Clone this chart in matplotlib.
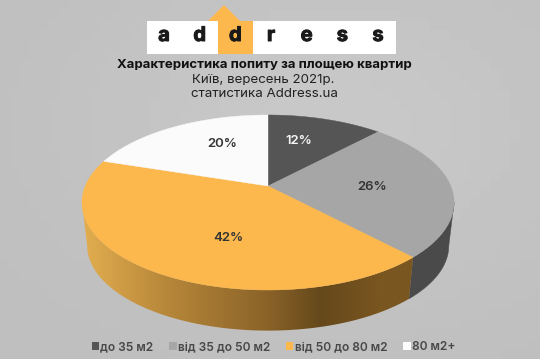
import numpy as np
import matplotlib
matplotlib.use("Agg")
import matplotlib.pyplot as plt
import matplotlib.patheffects as pe
from matplotlib.patches import Polygon, Rectangle, Patch
from matplotlib.colors import LinearSegmentedColormap

categories = ["до 35 м2", "від 35 до 50 м2", "від 50 до 80 м2", "80 м2+"]
shares = [12, 26, 42, 20]
logo_letters = list("address")
title_lines = ["Характеристика попиту за площею квартир", "Київ, вересень 2021р.", "статистика Address.ua"]

colors = ["#555555", "#a6a6a6", "#fcb84d", "#fbfbfb"]
label_colors = ["#f4f4f4", "#333333", "#333333", "#333333"]
label_xy = [(299, 141), (372, 187), (228, 238), (222, 144)]

W, H = 540, 359
fig = plt.figure(figsize=(W / 100, H / 100), dpi=100)
ax = fig.add_axes([0, 0, 1, 1])
ax.axis("off")

# background
gx, gy = np.meshgrid(np.linspace(0, 1, 54), np.linspace(0, 1, 36))
bg = 190 + 10 * np.exp(-((gx - .62) ** 2 + (gy - .35) ** 2) / .25)
ax.imshow(bg, cmap="gray", vmin=0, vmax=255, extent=(0, W, H, 0), aspect="auto", zorder=0)

# perspective projection of a unit circle
CX, CY = 268, 186
A, B, K = 182.7, 84.4, 0.1886
DEPTH, SHRINK = 43.5, 0.972


def project(theta, r=1.0, bottom=False):
    x = r * np.sin(theta)
    y = r * np.cos(theta)
    d = 1 + K * y
    px, py = A * x / d, -B * y / d
    if bottom:
        return CX + SHRINK * px, CY + DEPTH + SHRINK * py
    return CX + px, CY + py


fracs = np.cumsum([0] + shares) / np.sum(shares) * 2 * np.pi

side_cmap = LinearSegmentedColormap.from_list(
    "side", [(0, "#e3ae50"), (.25, "#b8883a"), (.55, "#8c6429"), (.72, "#65481b"), (.9, "#7a5620"), (1, "#7a5620")])


def side_poly(t0, t1):
    t = np.linspace(t0, t1, 200)
    xt, yt = project(t)
    xb, yb = project(t[::-1], bottom=True)
    return np.column_stack([np.r_[xt, xb], np.r_[yt, yb]])


right_t = np.pi / 2 + 0.19
left_t = 3 * np.pi / 2 - 0.19
ax.add_patch(Polygon(side_poly(right_t, fracs[2]), closed=True, fc="#4a4a4a", ec="#4a4a4a", lw=.3, zorder=2))
orange_poly = side_poly(fracs[2], left_t)
orange_patch = Polygon(orange_poly, closed=True, fc="none", ec="none", zorder=2)
ax.add_patch(orange_patch)
grad = np.linspace(0, 1, 256).reshape(1, -1)
im = ax.imshow(grad, cmap=side_cmap, vmin=0, vmax=1, aspect="auto", zorder=2,
               extent=(orange_poly[:, 0].min(), orange_poly[:, 0].max(), 340, 200))
im.set_clip_path(orange_patch)

# top face wedges
for i, c in enumerate(colors):
    t = np.linspace(fracs[i], fracs[i + 1], 120)
    xt, yt = project(t)
    pts = np.column_stack([np.r_[CX, xt], np.r_[CY, yt]])
    ax.add_patch(Polygon(pts, closed=True, fc=c, ec=c, lw=.3, zorder=3))
    ax.text(*label_xy[i], f"{shares[i]}%", color=label_colors[i], ha="center", va="center",
            fontsize=9.5, fontweight="semibold", family="Inter", zorder=4)

# logo
ax.add_patch(Rectangle((147, 21), 249, 33, fc="white", ec="none", zorder=2))
ax.add_patch(Rectangle((218, 21), 35, 33, fc="#fcb84d", ec="none", zorder=3))
ax.add_patch(Polygon([(208, 21), (224, 5), (240, 21)], closed=True, fc="#fcb84d", ec="none", zorder=3))
for letter, x in zip(logo_letters, np.linspace(164, 378, len(logo_letters))):
    ax.text(x, 36, letter, ha="center", va="center", fontsize=14.5, fontweight="bold",
            family="Inter", color="#1a1a1a", zorder=4,
            path_effects=[pe.withStroke(linewidth=.7, foreground="#1a1a1a")])

# titles
ax.text(264.5, 65, title_lines[0], ha="center", va="center", fontsize=9.5, fontweight="bold",
        family="Inter", color="#111111")
ax.text(263, 80, title_lines[1], ha="center", va="center", fontsize=9.6, family="Inter", color="#222222")
ax.text(264, 94, title_lines[2], ha="center", va="center", fontsize=9.6, family="Inter", color="#222222")

# legend
handles = [Patch(fc=c, ec="none", label=l) for c, l in zip(colors, categories)]
ax.legend(handles=handles, ncol=4, loc="center", bbox_to_anchor=(273.5 / W, 1 - 347 / H),
          frameon=False, handlelength=.6, handleheight=.6, handletextpad=.1,
          columnspacing=1.35, labelcolor="#484848",
          prop={"family": "Inter", "weight": "semibold", "size": 8.6})

ax.set_xlim(0, W)
ax.set_ylim(H, 0)
fig.savefig("out.png", dpi=100)
